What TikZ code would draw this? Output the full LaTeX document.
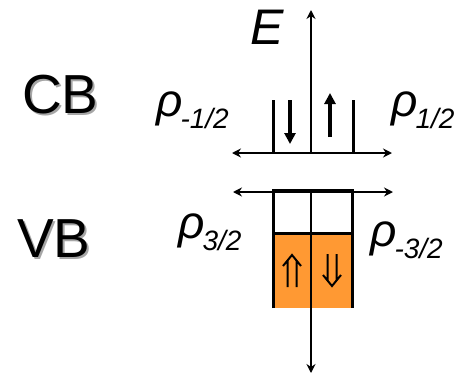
\documentclass[tikz,border=0pt]{standalone}
\usepackage{fontspec}
\setmainfont{Liberation Sans}
\usetikzlibrary{arrows.meta,positioning}
\definecolor{hole}{RGB}{255,153,51}
\newcommand\rhosub[1]{{\fontsize{46}{46}\selectfont\itshape ρ\hspace{-2pt}\raisebox{-12pt}{\fontsize{28}{28}\selectfont #1}}}
\newcommand\shadowed[1]{\rlap{\hspace{2pt}\raisebox{-2pt}{\textcolor{black!35}{#1}}}#1}
\tikzset{
  axis/.style={line width=1.6pt,{Stealth[length=9pt,width=9pt,inset=3pt]}-{Stealth[length=9pt,width=9pt,inset=3pt]}},
  uparrow/.style={line width=1.6pt,-{Stealth[length=9pt,width=9pt,inset=3pt]}},
  wall/.style={line width=3pt},
  spin/.style={line width=4pt,-{Triangle[width=11pt,length=11pt]}},
  hspin/.style={line width=2pt,line join=miter},
  lbl/.style={inner sep=0pt,anchor=base west},
  band/.style={lbl,font=\fontsize{55}{55}\selectfont},
}

\begin{document}
\begin{tikzpicture}[x=1pt,y=-1pt]
      \useasboundingbox (0,0) rectangle (467,375);
      % band names, with their shadow
      \node[band] at (22,113) (CB) {\shadowed{CB}};
      \node[band] at (17,257) (VB) {\shadowed{VB}};
      % conduction band
      \coordinate (cbO) at (311,153);
      \coordinate (cbL) at (232,153);
      \coordinate (cbR) at (392,153);
      \coordinate (Etop) at (311,10);
      \draw[axis] (cbL) -- (cbR);
      \draw[uparrow] (cbO) -- (Etop);
      \draw[wall] (273,153) -- (273,100);
      \draw[wall] (353,153) -- (353,100);
      \draw[spin] (290,100) -- (290,144);
      \draw[spin] (330,137) -- (330,93);
      \node[lbl,font=\fontsize{50}{50}\selectfont\itshape] at (250,44) (E) {E};
      \node[lbl] at (156,116) (rm12) {\rhosub{-1/2}};
      \node[lbl] at (391,116) (rp12) {\rhosub{1/2}};
      % valence band
      \coordinate (vbO) at (311,192);
      \coordinate (vbL) at (233,192);
      \coordinate (vbR) at (393,192);
      \coordinate (Ebot) at (311,373);
      \fill[hole] (273,233) rectangle (352,308);
      \draw[axis] (vbL) -- (vbR);
      \draw[wall] (273,308) -- (273,190.5) -- (352,190.5) -- (352,308);
      \draw[wall] (273,233) -- (352,233);
      \draw[uparrow] (vbO) -- (Ebot);
      % heavy holes, up and down
      \draw[hspin] (287.5,287) -- (287.5,261) (296.5,287) -- (296.5,261)
                   (283,266) -- (292,255) -- (301,266);
      \draw[hspin] (327.5,254) -- (327.5,280) (336.5,254) -- (336.5,280)
                   (323,275) -- (332,286) -- (341,275);
      \node[lbl] at (178,238) (rp32) {\rhosub{3/2}};
      \node[lbl] at (370,246) (rm32) {\rhosub{-3/2}};
    \end{tikzpicture}
\end{document}
